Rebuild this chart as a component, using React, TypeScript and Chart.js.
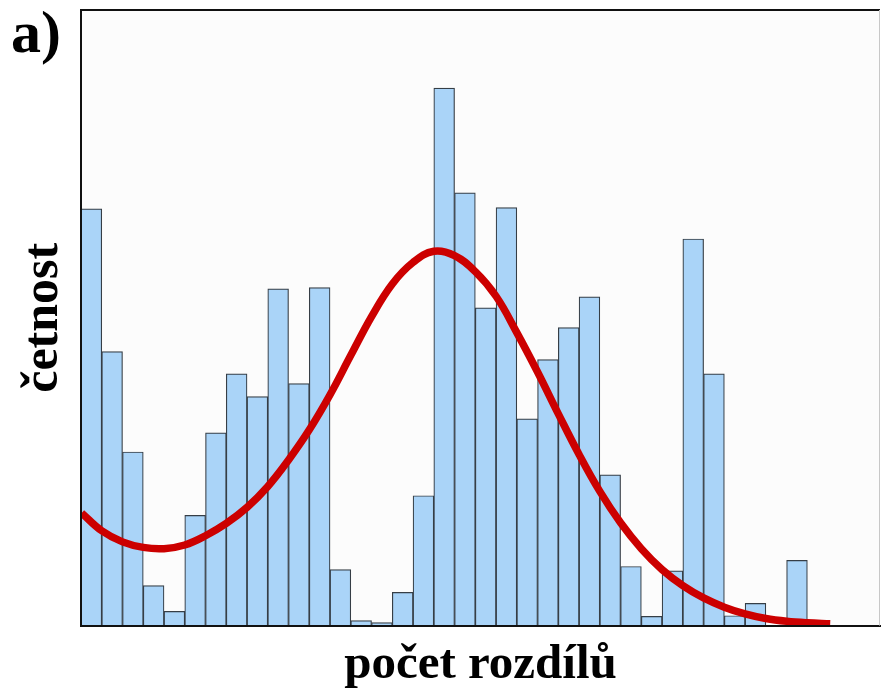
import React, { useEffect, useRef } from "react";
import { Chart, registerables } from "chart.js";

Chart.register(...registerables);

// Histogram bins (bin index, centred at i + 0.5) and heights (relative units, 0-100)
const binCenters = [
  0.5, 1.5, 2.5, 3.5, 4.5, 5.5, 6.5, 7.5, 8.5, 9.5,
  10.5, 11.5, 12.5, 13.5, 14.5, 15.5, 16.5, 17.5, 18.5, 19.5,
  20.5, 21.5, 22.5, 23.5, 24.5, 25.5, 26.5, 27.5, 28.5, 29.5,
  30.5, 31.5, 32.5, 33.5, 34.5,
];
const binHeights = [
  67.7, 44.5, 28.2, 6.5, 2.3, 17.9, 31.3, 40.9, 37.2, 54.7,
  39.3, 54.9, 9.1, 0.8, 0.5, 5.4, 21.1, 87.3, 70.3, 51.6,
  67.9, 33.6, 43.2, 48.4, 53.4, 24.5, 9.6, 1.5, 8.9, 62.8,
  40.9, 1.6, 3.6, 0, 10.6,
];

// Fitted curve
const curveX = [
  0.03, 1, 2, 3, 4, 5, 6, 7, 8, 9,
  10, 11, 12, 13, 14, 15, 16, 17, 18, 19,
  20, 21, 22, 23, 24, 25, 26, 27, 28, 29,
  30, 31, 32, 33, 34, 35, 36.1,
];
const curveY = [
  18.3, 15.4, 13.6, 12.7, 12.5, 13.1, 14.6, 16.6, 19.2, 22.6,
  26.9, 31.8, 37.5, 43.9, 50.2, 55.5, 59.0, 60.8, 60.1, 57.5,
  53.5, 47.6, 41.2, 34.4, 27.8, 21.8, 16.7, 12.5, 9.1, 6.5,
  4.5, 3.0, 1.9, 1.15, 0.7, 0.45, 0.3,
];

const xMin = 0;
const xMax = 38.5;
const yMax = 100;

const panelLabel = "a)";
const xTitle = "počet rozdílů";
const yTitle = "četnost";

const serif = '"Liberation Serif", "Times New Roman", serif';

const framePlugin = {
  id: "frame",
  beforeDraw(chart: any) {
    const { ctx, chartArea } = chart;
    ctx.save();
    ctx.fillStyle = "#fcfcfc";
    ctx.fillRect(chartArea.left, chartArea.top, chartArea.right - chartArea.left, chartArea.bottom - chartArea.top);
    ctx.restore();
  },
  afterDraw(chart: any) {
    const { ctx, chartArea } = chart;
    ctx.save();
    ctx.strokeStyle = "#111111";
    ctx.lineWidth = 2;
    ctx.beginPath();
    ctx.moveTo(chartArea.left - 1, chartArea.top);
    ctx.lineTo(chartArea.right, chartArea.top);
    ctx.stroke();
    ctx.strokeStyle = "#c8c8c8";
    ctx.lineWidth = 1;
    ctx.beginPath();
    ctx.moveTo(chartArea.right - 0.5, chartArea.top);
    ctx.lineTo(chartArea.right - 0.5, chartArea.bottom);
    ctx.stroke();
    ctx.fillStyle = "#000000";
    ctx.font = `bold 60px ${serif}`;
    ctx.textBaseline = "alphabetic";
    ctx.textAlign = "left";
    ctx.fillText(panelLabel, 11, 52);
    ctx.restore();
  },
};

export default function App() {
  const canvasRef = useRef<HTMLCanvasElement | null>(null);

  useEffect(() => {
    if (!canvasRef.current) return;
    const bars = binCenters.map((x, i) => ({ x, y: binHeights[i] }));
    const curve = curveX.map((x, i) => ({ x, y: curveY[i] }));
    const chart = new Chart(canvasRef.current, {
      type: "bar",
      data: {
        datasets: [
          {
            type: "line",
            label: "fit",
            data: curve,
            borderColor: "#cc0000",
            borderWidth: 7.5,
            pointRadius: 0,
            tension: 0.4,
            fill: false,
            order: 0,
          } as any,
          {
            type: "bar",
            label: "četnost",
            data: bars,
            backgroundColor: "#aad4f8",
            borderColor: "#363e46",
            borderWidth: 1.2,
            barPercentage: 1,
            categoryPercentage: 1,
            order: 1,
          } as any,
        ],
      },
      options: {
        responsive: false,
        animation: false,
        devicePixelRatio: 1,
        layout: { padding: { left: 0, top: 10, right: 1, bottom: 0 } },
        plugins: {
          legend: { display: false },
          tooltip: { enabled: false },
          title: { display: false },
        },
        scales: {
          x: {
            type: "linear",
            min: xMin,
            max: xMax,
            offset: false,
            grid: { display: false, drawTicks: false },
            ticks: { display: false },
            border: { display: true, color: "#111111", width: 2, z: 1 },
            title: {
              display: true,
              text: xTitle,
              color: "#000000",
              font: { family: serif, size: 49, weight: "bold", lineHeight: 1.2 },
              padding: { top: 10.4, bottom: 3.2 },
            },
          },
          y: {
            type: "linear",
            min: 0,
            max: yMax,
            grid: { display: false, drawTicks: false },
            ticks: { display: false },
            border: { display: true, color: "#111111", width: 2, z: 1 },
            title: {
              display: true,
              text: yTitle,
              color: "#000000",
              font: { family: serif, size: 50, weight: "bold", lineHeight: 1.2 },
              padding: { top: 14, bottom: 7 },
            },
          },
        },
      },
      plugins: [framePlugin],
    });
    return () => chart.destroy();
  }, []);

  return (
    <div style={{ position: "absolute", left: 0, top: 0, width: 881, height: 698, background: "#ffffff" }}>
      <canvas ref={canvasRef} width={881} height={698} style={{ display: "block" }} />
    </div>
  );
}
